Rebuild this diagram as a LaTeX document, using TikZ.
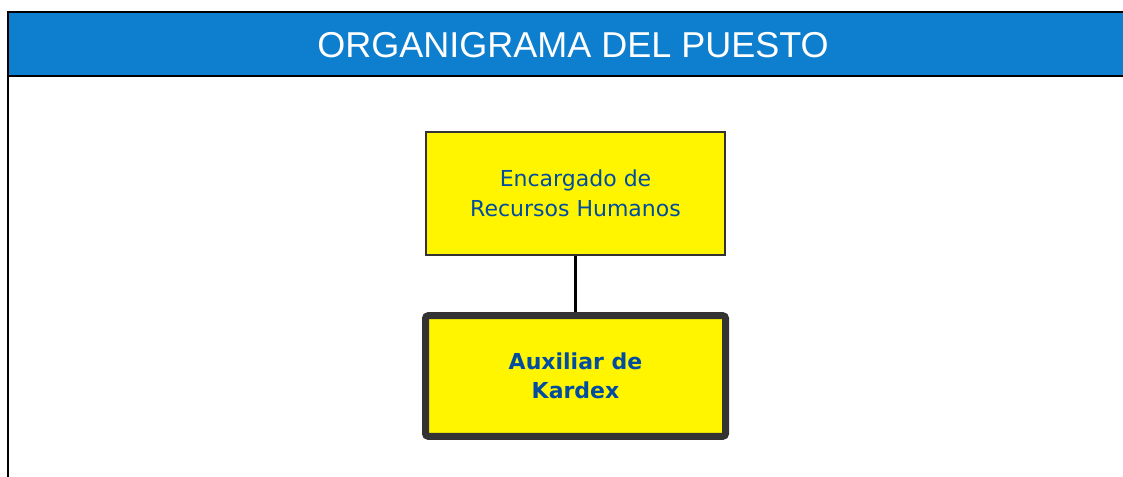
\documentclass[tikz,border=0pt]{standalone}
\usepackage{fontspec}
\setmainfont{DejaVu Sans}
\newfontfamily\titlefont{Liberation Sans}
\definecolor{headblue}{RGB}{14,126,206}
\definecolor{textblue}{RGB}{0,76,160}
\definecolor{boxyellow}{RGB}{255,245,0}
\definecolor{boxgray}{RGB}{51,51,51}
\tikzset{
  titletext/.style={text=white,font=\titlefont\fontsize{27pt}{30pt}\selectfont},
  jefebox/.style={draw=boxgray,fill=boxyellow,line width=1.5pt,inner sep=0pt,
    minimum width=224.25pt,minimum height=91.5pt,align=center,text=textblue,
    font=\fontsize{16.5pt}{22.5pt}\selectfont},
  puestobox/.style={draw=boxgray,fill=boxyellow,line width=5.25pt,rounded corners=2pt,
    inner sep=0pt,minimum width=225pt,minimum height=90.4pt,align=center,text=textblue,
    font=\bfseries\fontsize{16.5pt}{22pt}\selectfont},
}
\begin{document}
\begin{tikzpicture}[x=0.75pt,y=-0.75pt]
\useasboundingbox (0,0) rectangle (1123,477);
% cabecera
\fill[headblue] (8,12) rectangle (1123,76);
\draw[line width=1.6pt] (1123,12) -- (8,12) -- (8,477);
\draw[line width=1.6pt] (8,76) -- (1123,76);
\node[titletext] (title) at (573,45) {ORGANIGRAMA DEL PUESTO};
% organigrama
\node[jefebox] (enc) at (575.5,193.5) {Encargado de\\Recursos Humanos};
\node[puestobox] (aux) at (575.5,376) {Auxiliar de\\Kardex};
\draw[line width=1.6pt] (enc) -- (aux);
\end{tikzpicture}
\end{document}
